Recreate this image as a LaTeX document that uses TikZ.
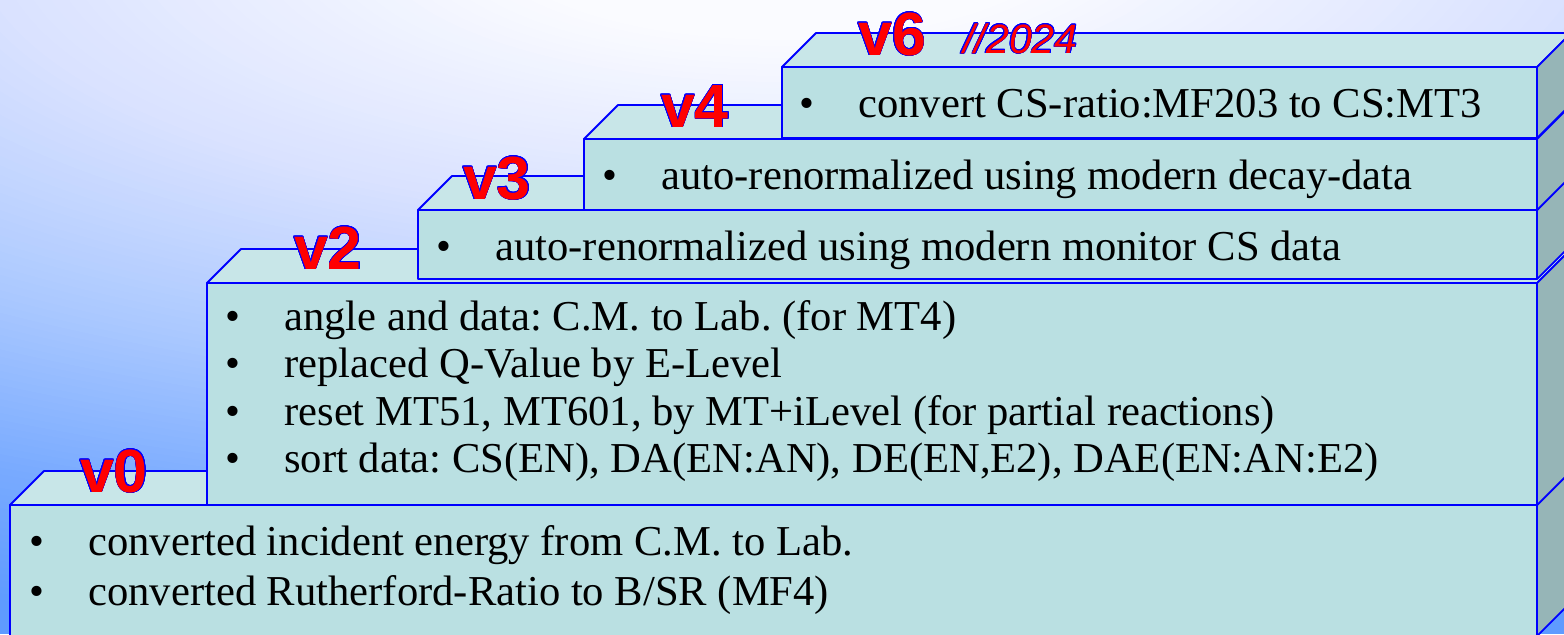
\documentclass[tikz,border=0pt]{standalone}
\usepackage{fontspec}
\setmainfont{Liberation Serif}
\setsansfont{Liberation Sans}
\usepackage[copies]{contour}
\contourlength{0.3pt}
\usetikzlibrary{positioning}
\definecolor{frontc}{RGB}{186,224,226}
\definecolor{topc}{RGB}{200,230,232}
\definecolor{sidec}{RGB}{150,181,183}
\definecolor{bgc0}{RGB}{250,251,255}
\definecolor{bgc1}{RGB}{218,226,255}
\definecolor{bgc2}{RGB}{170,200,255}
\definecolor{bgc3}{RGB}{120,170,255}
\definecolor{bgc4}{RGB}{95,155,255}
\newcommand{\bul}{\makebox[29.5pt][l]{\textbullet}}
\newcommand{\vtag}[1]{\contour{blue}{#1}}
\frenchspacing

\begin{document}
\begin{tikzpicture}[x=0.5pt, y=-0.5pt,
  edge/.style={draw=blue, line width=0.9pt, line join=round},
  itemline/.style={anchor=base west, inner sep=0pt, font=\fontsize{21.3}{25}\selectfont},
  vlabel/.style={anchor=base, inner sep=0pt, text=red, font=\sffamily\bfseries\fontsize{30.5}{32}\selectfont},
  yearlabel/.style={anchor=base west, inner sep=0pt, text=red, font=\sffamily\itshape\fontsize{20.5}{22}\selectfont}
]
\useasboundingbox (0,0) rectangle (1564,634);
\begin{scope}
\clip (0,0) rectangle (1564,634);
% background glow: flat ellipses, blue outside, white near the top middle
\fill[bgc4] (0,0) rectangle (1564,634);
\foreach \d in {720,714,...,600}{
  \pgfmathsetmacro\p{(720-\d)/1.2}
  \fill[bgc3!\p!bgc4] (780,-60) ellipse [x radius=2.857*\d, y radius=\d];
}
\foreach \d in {600,594,...,450}{
  \pgfmathsetmacro\p{(600-\d)/1.5}
  \fill[bgc2!\p!bgc3] (780,-60) ellipse [x radius=2.857*\d, y radius=\d];
}
\foreach \d in {450,444,...,280}{
  \pgfmathsetmacro\p{(450-\d)/1.7}
  \fill[bgc1!\p!bgc2] (780,-60) ellipse [x radius=2.857*\d, y radius=\d];
}
\foreach \d in {280,274,...,100}{
  \pgfmathsetmacro\p{(280-\d)/1.8}
  \fill[bgc0!\p!bgc1] (780,-60) ellipse [x radius=2.857*\d, y radius=\d];
}
% steps, bottom one first so each higher step covers the top face below it
\foreach \l/\t/\b in {10/505/636, 207/283/505, 418/210/279, 584/139/210, 782/67/138}{
  \filldraw[edge, fill=frontc] (\l,\b) rectangle (1537,\t);
  \filldraw[edge, fill=topc] (\l,\t) -- ++(34,-34) -- (1571,\t-34) -- (1537,\t) -- cycle;
  \filldraw[edge, fill=sidec] (1537,\t) -- ++(34,-34) -- (1571,\b-34) -- (1537,\b) -- cycle;
}
\end{scope}

\node[itemline] (t6) at (799,117) {\bul convert CS-ratio:MF203 to CS:MT3};
\node[itemline] (t4) at (602,189) {\bul auto-renormalized using modern decay-data};
\node[itemline] (t3) at (436,260) {\bul auto-renormalized using modern monitor CS data};
\node[itemline] (t2a) at (225,330) {\bul angle and data: C.M. to Lab. (for MT4)};
\node[itemline] (t2b) at (225,377.5) {\bul replaced Q-Value by E-Level};
\node[itemline] (t2c) at (225,425) {\bul reset MT51, MT601, by MT+iLevel (for partial reactions)};
\node[itemline] (t2d) at (225,472.5) {\bul sort data: CS(EN), DA(EN:AN), DE(EN,E2), DAE(EN:AN:E2)};
\node[itemline] (t0a) at (29,555) {\bul converted incident energy from C.M. to Lab.};
\node[itemline] (t0b) at (29,605) {\bul converted Rutherford-Ratio to B/SR (MF4)};

\node[vlabel] (l0) at (114,492) {\vtag{v0}};
\node[vlabel] (l2) at (328,269) {\vtag{v2}};
\node[vlabel] (l3) at (497,199) {\vtag{v3}};
\node[vlabel] (l4) at (695,127) {\vtag{v4}};
\node[vlabel] (l6) at (892,55) {\vtag{v6}};
\node[yearlabel] (yr) at (963,53) {\vtag{//2024}};
\end{tikzpicture}
\end{document}
